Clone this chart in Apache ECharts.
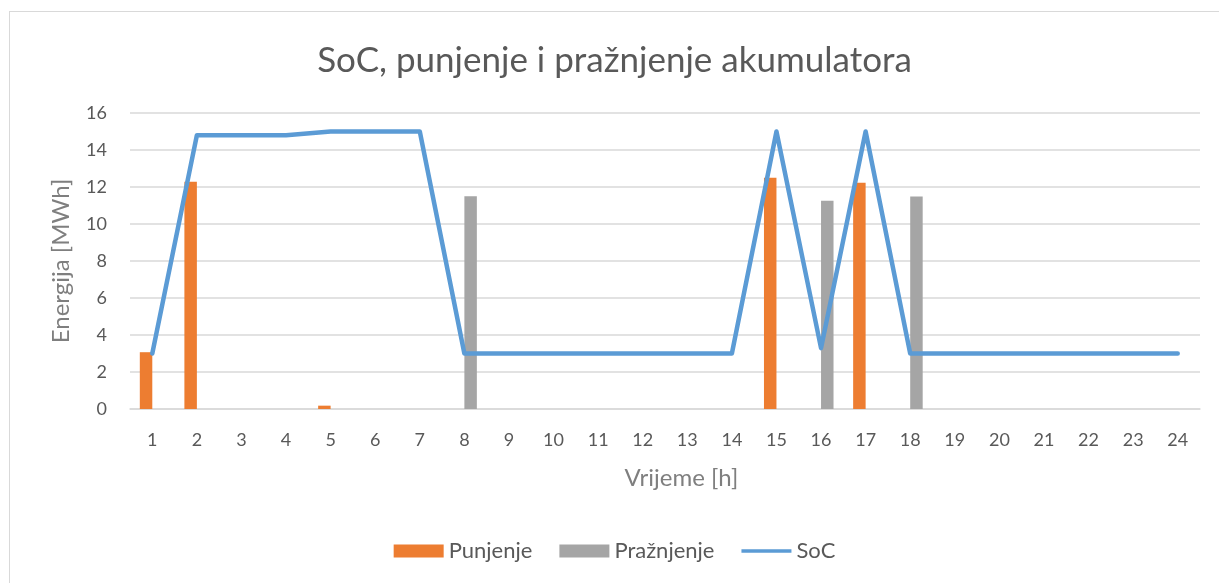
<!DOCTYPE html>
<html>
<head>
<meta charset="utf-8">
<script src="https://cdn.jsdelivr.net/npm/echarts@6/dist/echarts.min.js"></script>
<style>
  html, body { margin: 0; padding: 0; background: #fff; }
  #main { position: absolute; left: 9px; top: 11px; width: 1210px; height: 572px;
          box-sizing: border-box; border: 1px solid #d9d9d9; border-right: none; border-bottom: none; }
</style>
</head>
<body>
<div id="main"></div>
<script>
// sati u danu
var sati = ['1','2','3','4','5','6','7','8','9','10','11','12','13','14','15','16','17','18','19','20','21','22','23','24'];
// punjenje akumulatora [MWh]
var punjenje = [3.07, 12.28, 0, 0, 0.18, 0, 0, 0, 0, 0, 0, 0, 0, 0, 12.5, 0, 12.23, 0, 0, 0, 0, 0, 0, 0];
// praznjenje akumulatora [MWh]
var praznjenje = [0, 0, 0, 0, 0, 0, 0, 11.5, 0, 0, 0, 0, 0, 0, 0, 11.26, 0, 11.48, 0, 0, 0, 0, 0, 0];
// stanje napunjenosti [MWh]
var soc = [3, 14.8, 14.8, 14.8, 15, 15, 15, 3, 3, 3, 3, 3, 3, 3, 15, 3.29, 15, 3, 3, 3, 3, 3, 3, 3];

var font = 'Lato';
var myChart = echarts.init(document.getElementById('main'));

var option = {
    animation: false,
    textStyle: { fontFamily: font },
    title: {
        text: 'SoC, punjenje i pražnjenje akumulatora',
        left: 'center',
        top: 26,
        textStyle: { fontFamily: font, fontSize: 35, fontWeight: 'normal', color: '#595959' }
    },
    legend: {
        bottom: 16,
        left: 'center',
        itemGap: 27,
        itemWidth: 50,
        itemHeight: 13,
        textStyle: { fontFamily: font, fontSize: 22, color: '#595959' },
        data: [
            { name: 'Punjenje', icon: 'rect' },
            { name: 'Pražnjenje', icon: 'rect' },
            { name: 'SoC', icon: 'path://M0,5 L48,5 L48,8.5 L0,8.5 Z' }
        ]
    },
    grid: { left: 120, right: 19, top: 101, bottom: 174 },
    xAxis: {
        type: 'category',
        data: sati,
        name: 'Vrijeme [h]',
        nameLocation: 'middle',
        nameGap: 57,
        nameTextStyle: { fontFamily: font, fontSize: 24, color: '#7f7f7f', padding: [0, 0, 0, 33] },
        axisLine: { lineStyle: { color: '#d9d9d9', width: 1.5 } },
        axisTick: { show: false },
        axisLabel: { fontFamily: font, fontSize: 18, color: '#595959', margin: 22 }
    },
    yAxis: {
        type: 'value',
        min: 0,
        max: 16,
        interval: 2,
        name: 'Energija [MWh]',
        nameLocation: 'middle',
        nameGap: 57,
        nameTextStyle: { fontFamily: font, fontSize: 24, color: '#7f7f7f' },
        axisLine: { show: false },
        axisTick: { show: false },
        axisLabel: { fontFamily: font, fontSize: 18, color: '#595959', margin: 23 },
        splitLine: { lineStyle: { color: '#d9d9d9', width: 1.5 } }
    },
    series: [
        {
            name: 'Punjenje',
            type: 'bar',
            data: punjenje,
            barGap: '0%',
            barCategoryGap: '44%',
            itemStyle: { color: '#ed7d31' }
        },
        {
            name: 'Pražnjenje',
            type: 'bar',
            data: praznjenje,
            itemStyle: { color: '#a5a5a5' }
        },
        {
            name: 'SoC',
            type: 'line',
            data: soc,
            symbol: 'none',
            lineStyle: { color: '#5b9bd5', width: 4.5, cap: 'round', join: 'round' },
            itemStyle: { color: '#5b9bd5' }
        }
    ]
};

myChart.setOption(option);
</script>
</body>
</html>
